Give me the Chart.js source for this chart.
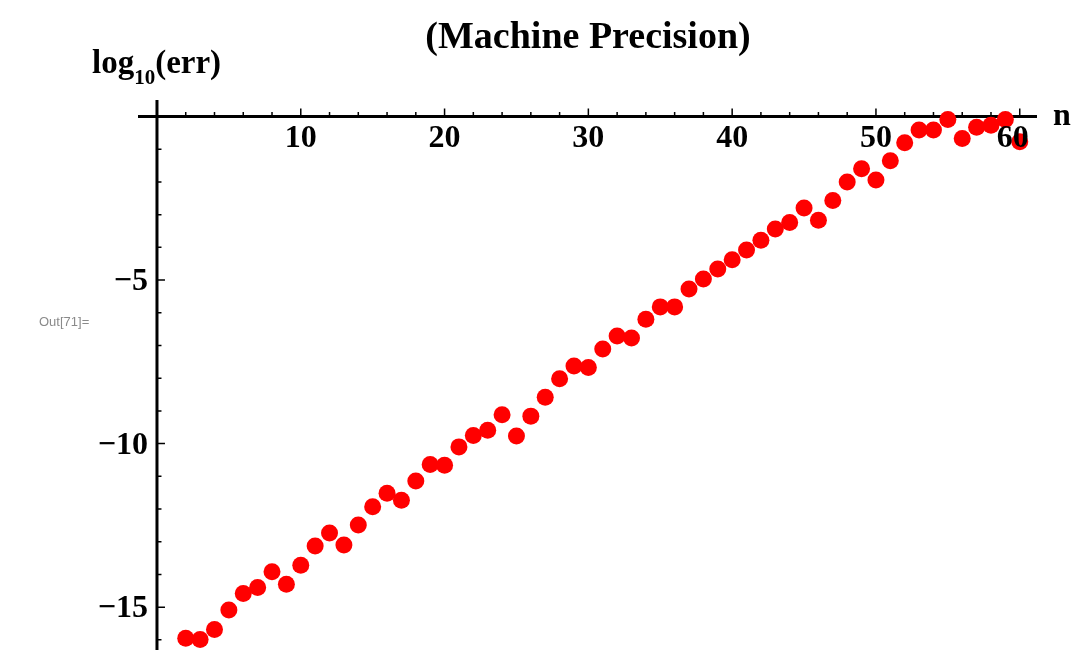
<!DOCTYPE html>
<html>
<head>
<meta charset="utf-8">
<title>(Machine Precision)</title>
<script src="https://cdn.jsdelivr.net/npm/chart.js@4.4.1/dist/chart.umd.min.js"></script>
<style>
  html, body { margin: 0; padding: 0; background: #fff; overflow: hidden; }
  #wrap { position: relative; width: 1074px; height: 650px; }
  #errPlot { display: block; width: 1074px; height: 650px; }
</style>
</head>
<body>
<div id="wrap"><canvas id="errPlot" width="1074" height="650"></canvas></div>
<script>
// ----- Data -----

// n = 2 .. 60
const nValues = [
  2, 3, 4, 5, 6, 7, 8, 9, 10, 11, 12, 13, 14, 15, 16, 17, 18, 19, 20, 21,
  22, 23, 24, 25, 26, 27, 28, 29, 30, 31, 32, 33, 34, 35, 36, 37, 38, 39, 40, 41,
  42, 43, 44, 45, 46, 47, 48, 49, 50, 51, 52, 53, 54, 55, 56, 57, 58, 59, 60
];

// log10(err)
const logErr = [
  -15.95, -15.99, -15.68, -15.09, -14.58, -14.40, -13.92, -14.30, -13.72, -13.13,
  -12.73, -13.10, -12.49, -11.93, -11.52, -11.73, -11.14, -10.64, -10.66, -10.10,
  -9.75, -9.59, -9.12, -9.77, -9.16, -8.58, -8.02, -7.63, -7.67, -7.11,
  -6.71, -6.77, -6.20, -5.82, -5.82, -5.27, -4.97, -4.66, -4.38, -4.08,
  -3.78, -3.44, -3.24, -2.80, -3.17, -2.57, -2.00, -1.60, -1.94, -1.35,
  -0.80, -0.41, -0.41, -0.09, -0.67, -0.33, -0.27, -0.09, -0.77
];

const xMajorTicks = [10, 20, 30, 40, 50, 60];
const yMajorTicks = [-5, -10, -15];
const xMinorStep = 2;
const yMinorStep = 1;

const titleText = "(Machine Precision)";
const xAxisName = "n";

// ----- Axes plugin (Mathematica style, axes crossing at origin) -----

const SERIF = "'Liberation Serif', 'DejaVu Serif', serif";

/**
 * Draws the axis lines and tick marks before the points,
 * so the red dots sit on top of the x axis.
 */
function drawAxisLines(chart) {
  const { ctx, chartArea, scales: { x, y } } = chart;
  const y0 = y.getPixelForValue(0);
  const x0 = x.getPixelForValue(0);

  ctx.save();
  ctx.strokeStyle = "#000";
  ctx.lineCap = "butt";

  // axis lines
  ctx.lineWidth = 3;
  ctx.beginPath();
  ctx.moveTo(chartArea.left, y0);
  ctx.lineTo(chartArea.right, y0);
  ctx.moveTo(x0, chartArea.top);
  ctx.lineTo(x0, chartArea.bottom);
  ctx.stroke();

  // x ticks (pointing up)
  ctx.lineWidth = 1.5;
  ctx.beginPath();
  for (let v = xMinorStep; v <= x.max; v += xMinorStep) {
    const px = x.getPixelForValue(v);
    const len = v % 10 === 0 ? 8 : 4.5;
    ctx.moveTo(px, y0);
    ctx.lineTo(px, y0 - len);
  }
  // y ticks (pointing right)
  for (let v = -yMinorStep; v >= y.min; v -= yMinorStep) {
    const py = y.getPixelForValue(v);
    const len = v % 5 === 0 ? 8 : 4.5;
    ctx.moveTo(x0, py);
    ctx.lineTo(x0 + len, py);
  }
  ctx.stroke();
  ctx.restore();
}

/**
 * Draws tick labels and the titles after the points.
 */
function drawAxisLabels(chart) {
  const { ctx, scales: { x, y } } = chart;
  const y0 = y.getPixelForValue(0);
  const x0 = x.getPixelForValue(0);

  ctx.save();
  ctx.fillStyle = "#000";
  ctx.font = `bold 32px ${SERIF}`;
  ctx.textBaseline = "alphabetic";

  ctx.textAlign = "center";
  xMajorTicks.forEach(v => {
    const shift = v === 60 ? -7 : 0;
    ctx.fillText(String(v), x.getPixelForValue(v) + shift, y0 + 30);
  });

  ctx.textAlign = "right";
  yMajorTicks.forEach(v => {
    ctx.fillText("\u2212" + Math.abs(v), x0 - 9, y.getPixelForValue(v) + 10);
  });

  // axis name at the end of the x axis
  ctx.textAlign = "left";
  ctx.font = `bold 32px ${SERIF}`;
  ctx.fillText(xAxisName, 1053, y0 + 8);

  // y axis name: log10(err)
  let cx = 92;
  const base = 73;
  ctx.font = `bold 33px ${SERIF}`;
  ctx.fillText("log", cx, base);
  cx += ctx.measureText("log").width;
  ctx.font = `bold 21px ${SERIF}`;
  ctx.fillText("10", cx, base + 11);
  cx += ctx.measureText("10").width;
  ctx.font = `bold 33px ${SERIF}`;
  ctx.fillText("(err)", cx, base);

  // title
  ctx.textAlign = "center";
  ctx.font = `bold 38px ${SERIF}`;
  ctx.fillText(titleText, 588, 48);

  // notebook output marker
  ctx.textAlign = "left";
  ctx.textBaseline = "middle";
  ctx.font = "13px 'Liberation Sans', Arial, sans-serif";
  ctx.fillStyle = "#8a8a8a";
  ctx.fillText("Out[71]=", 39, 322);

  ctx.restore();
}

const mathAxes = {
  id: "mathAxes",
  beforeDatasetsDraw: drawAxisLines,
  afterDatasetsDraw: drawAxisLabels,
};

// ----- Chart -----

document.addEventListener("DOMContentLoaded", () => {
  const ctx = document.getElementById("errPlot").getContext("2d");
  const points = nValues.map((n, i) => ({ x: n, y: logErr[i] }));

  window.errChart = new Chart(ctx, {
    type: "scatter",
    data: {
      datasets: [{
        label: "log10(err)",
        data: points,
        pointRadius: 8.5,
        pointHoverRadius: 8.5,
        pointBackgroundColor: "#ff0000",
        pointBorderWidth: 0,
        borderColor: "#ff0000",
        clip: false,
      }]
    },
    options: {
      responsive: false,
      animation: false,
      layout: {
        autoPadding: false,
        padding: { left: 138, right: 37, top: 100, bottom: 0 },
      },
      plugins: {
        legend: { display: false },
        tooltip: { enabled: false },
        title: { display: false },
      },
      scales: {
        x: { type: "linear", display: false, min: -1.32, max: 61.2 },
        y: { type: "linear", display: false, min: -16.31, max: 0.505 },
      }
    },
    plugins: [mathAxes],
  });
});
</script>
</body>
</html>
